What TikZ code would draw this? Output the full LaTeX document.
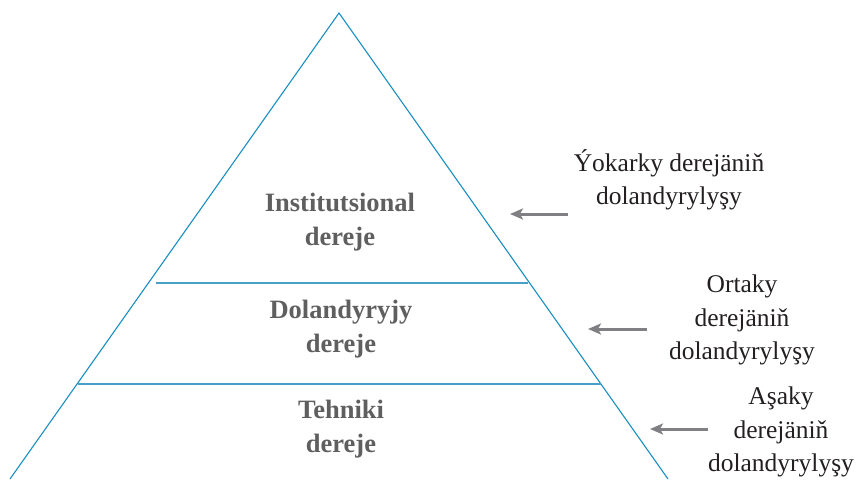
\documentclass[tikz,border=0pt]{standalone}
\usepackage{fontspec}
\setmainfont{Liberation Serif}
\usetikzlibrary{arrows.meta,calc}
\definecolor{triblue}{RGB}{26,142,192}
\definecolor{lineblue}{RGB}{70,160,200}
\definecolor{lblgray}{RGB}{95,95,95}
\definecolor{arrgray}{RGB}{128,128,132}
\definecolor{txtdark}{RGB}{35,31,32}
\begin{document}
\begin{tikzpicture}[x=1pt,y=-1pt,
  level/.style={font=\fontsize{26.5}{33.5}\selectfont\bfseries, text=lblgray, align=center, inner sep=0pt},
  side/.style={font=\fontsize{25.5}{33.5}\selectfont, text=txtdark, align=center, inner sep=0pt},
  pointer/.style={draw=arrgray, line width=3pt, -{Stealth[length=13pt,width=11pt,inset=3pt]}},
  edge/.style={draw=triblue, line width=1.1pt},
  divider/.style={draw=lineblue, line width=1.6pt}]
\useasboundingbox (0,0) rectangle (858,479);
\coordinate (apex) at (339,13);
\coordinate (bl) at (10,479);
\coordinate (br) at (668,479);
\draw[edge] (bl) -- (apex) -- (br);
\coordinate (d1l) at (156,283);
\coordinate (d1r) at (528,283);
\coordinate (d2l) at (78,384);
\coordinate (d2r) at (601,384);
\draw[divider] (d1l) -- (d1r);
\draw[divider] (d2l) -- (d2r);
\node[level] (inst) at (340,222) {Institutsional\\dereje};
\node[level] (dol) at (341,329) {Dolandyryjy\\dereje};
\node[level] (teh) at (341,429) {Tehniki\\dereje};
\node[side] (top) at (669,180) {Ýokarky derejäniň\\dolandyrylyşy};
\node[side] (mid) at (742,320) {Ortaky\\derejäniň\\dolandyrylyşy};
\node[side] (low) at (781,432) {Aşaky\\derejäniň\\dolandyrylyşy};
\coordinate (a1s) at (568,214); \coordinate (a1e) at (510,214);
\coordinate (a2s) at (647,329); \coordinate (a2e) at (588,329);
\coordinate (a3s) at (708,429); \coordinate (a3e) at (650,429);
\draw[pointer] (a1s) -- (a1e);
\draw[pointer] (a2s) -- (a2e);
\draw[pointer] (a3s) -- (a3e);
\end{tikzpicture}
\end{document}
